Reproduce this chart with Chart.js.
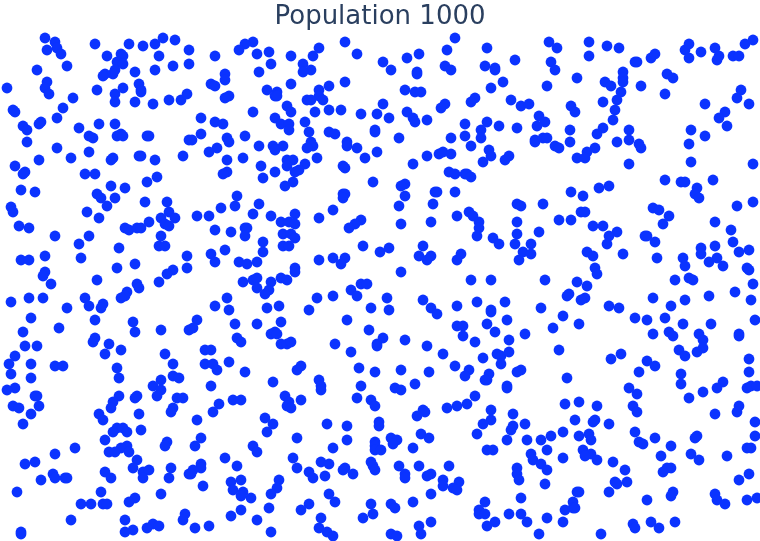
<!DOCTYPE html>
<html><head><meta charset="utf-8">
<script src="https://cdn.jsdelivr.net/npm/chart.js@4"></script>
<style>html,body{margin:0;padding:0;background:#fff}#w{width:760px;height:541px}</style>
</head><body><div id="w"><canvas id="c"></canvas></div>
<script>
const titleText = "Population 1000";
const topA = [45,38,55,42,57,48,47,50,61,54,67,66,37,70,47,82,45,88,49,94,7,88,73,98,63,108,13,110,15,112,57,118,41,122,39,124,23,126,27,130,27,142,57,148,39,160,71,158,15,166,25,172,23,174,79,128,99,124,115,124,89,136,93,138,89,152,85,174,95,174,111,160,113,158,95,44,107,56,129,44,143,46,155,44,163,38,175,40,159,56,189,50,189,64,173,66,155,70,135,72,121,54,123,56,117,62,123,64,115,70,113,74,105,74,103,76,97,90,115,94,123,88,139,84,141,90,141,92,115,102,135,102,153,104,169,100,181,100,187,94,117,136,121,134,123,136,147,136,149,136,189,140,139,156,141,156,155,160,183,156,157,177];
const topB = [253,42,245,44,239,50,257,54,269,52,215,56,271,64,259,72,225,74,225,80,211,84,215,86,267,90,277,92,275,96,277,96,229,96,225,98,291,84,291,56,303,64,313,56,319,48,345,42,357,54,311,70,303,72,345,82,329,86,319,90,319,96,307,100,311,100,323,100,315,112,329,110,341,110,361,114,377,114,253,112,287,106,291,112,275,118,281,124,289,124,289,130,305,122,309,132,311,142,313,146,307,148,329,132,335,134,347,142,347,146,357,148,375,130,375,132,377,152,365,158,317,158,305,164,299,170,295,172,287,160,293,160,287,166,275,172,261,166,343,166,345,168,243,158,227,160,227,172,223,174,263,178,201,118,215,122,223,124,201,134,245,136,227,138,229,142,259,146,273,146,283,146,275,150,217,148,209,152,192,140];
const topC = [455,38,447,50,487,48,419,54,407,58,383,62,391,70,515,60,549,42,557,48,551,62,555,70,445,66,451,70,485,66,495,68,495,70,417,72,417,74,503,82,491,88,547,86,405,90,415,92,421,92,475,98,471,102,511,100,521,106,529,104,445,104,441,108,383,104,407,112,413,118,415,122,389,118,427,120,399,138,465,124,487,122,481,130,499,126,517,128,465,136,481,138,451,138,471,146,539,116,545,122,537,126,535,140,535,142,543,138,547,138,555,146,559,148,570,142,570,130,571,106,489,150,491,156,483,162,509,156,505,160,427,156,439,154,443,152,451,154,413,164,449,172,455,174,465,174,467,174,471,177];
const topD = [589,42,607,46,619,48,589,56,635,62,637,62,651,58,655,54,685,50,689,44,689,58,701,52,715,48,719,56,717,60,733,56,739,56,745,44,753,40,577,78,623,72,623,78,623,82,605,82,611,86,641,86,667,74,673,78,665,94,621,92,617,100,603,102,615,110,613,120,741,90,737,98,749,104,705,104,725,112,719,118,727,126,691,130,705,136,689,144,603,128,597,134,629,130,629,140,617,142,639,144,641,148,595,148,587,152,577,158,585,158,629,164,691,162,753,164,665,180,713,180,575,112];
const midA = [21,190,35,192,11,207,13,212,19,226,29,228,55,236,21,260,29,260,45,256,45,272,43,276,51,284,11,302,29,298,43,298,67,308,31,318,59,328,23,332,25,346,37,346,15,356,111,186,125,188,147,182,97,194,101,198,115,198,107,206,87,212,99,218,145,202,167,202,169,212,161,218,175,218,165,224,169,226,149,222,125,228,129,230,137,228,141,228,161,236,159,246,165,246,89,236,79,244,119,248,81,258,117,268,135,264,97,280,187,256,187,268,173,270,167,274,159,282,137,284,139,288,127,292,125,296,121,298,85,298,89,306,103,304,101,308,95,320,133,322,135,332,161,330,189,330,95,338,93,342,109,344,121,350,105,354,165,354];
const midB = [237,196,221,208,235,206,259,204,197,216,209,216,253,214,271,216,215,230,231,232,245,228,247,228,245,236,281,222,289,222,295,214,295,224,283,234,291,234,295,238,283,246,289,246,263,242,225,250,263,252,211,254,215,262,239,262,247,264,257,262,243,282,253,280,257,278,257,288,271,282,269,290,265,294,281,278,287,280,295,268,295,272,227,298,215,306,229,310,267,308,279,306,235,324,257,324,281,322,197,320,193,328,237,338,241,342,271,334,275,332,277,334,281,344,287,344,291,342,205,350,211,350,319,218,333,210,343,194,345,194,343,198,361,220,355,224,349,228,363,246,380,252,319,260,333,258,345,258,341,264,351,290,357,296,361,284,367,284,333,296,317,298,309,310,371,308,347,320,369,330,335,344,351,352,377,344,377,346,285,186,293,182,373,182];
const midC = [405,184,401,186,405,196,399,206,401,224,435,192,437,192,455,192,433,204,431,222,457,216,469,212,473,216,479,222,479,228,477,236,493,238,499,244,517,204,521,206,543,204,517,222,517,234,539,232,559,220,571,220,571,192,515,244,531,244,523,252,531,254,519,260,423,246,389,248,419,256,431,256,427,260,461,254,457,260,401,272,471,280,491,280,545,280,387,298,389,310,423,300,431,308,437,314,457,306,477,302,505,302,491,310,491,312,541,308,507,320,487,324,457,326,463,326,463,336,495,332,509,340,525,334,475,342,563,316,553,328,567,296,569,294,559,350,383,338,405,340,427,346,443,354,483,358,497,354,501,356,509,352];
const midD = [599,188,609,186,583,196,581,212,585,212,593,226,603,226,617,232,609,236,607,244,587,252,593,256,623,254,595,268,597,274,577,282,587,286,585,298,581,300,609,306,619,308,579,324,645,236,647,236,655,242,657,258,653,208,659,210,669,216,663,224,697,188,695,194,699,198,737,206,753,202,715,222,731,230,733,242,715,246,701,248,701,254,749,250,739,252,683,258,685,266,709,262,717,258,723,266,747,268,749,270,675,280,689,278,693,280,753,284,735,292,709,296,685,300,751,300,653,298,671,306,665,318,635,318,647,320,683,324,711,324,755,320,653,334,669,332,673,336,699,334,703,340,703,348,697,352,679,350,685,356,739,334,739,336,621,354,611,359,647,361,749,359,681,182,685,182];
const lowA = [9,364,31,364,55,366,63,366,117,368,173,364,11,374,31,378,119,378,173,376,179,378,161,380,153,386,161,390,157,396,15,388,7,390,35,396,37,396,39,406,13,406,19,408,31,414,23,424,119,396,113,402,111,408,135,398,137,396,99,414,103,420,139,414,177,398,183,398,173,408,171,412,141,430,117,428,123,428,113,432,127,432,105,440,75,448,55,454,167,442,165,446,127,446,121,448,109,452,115,452,129,452,137,460,35,462,25,464,133,468,105,472,111,478,53,474,55,478,65,478,67,478,41,480,143,472,149,470,143,478,171,468,169,478,189,474,17,492,101,492,161,494,135,498,129,502,81,504,91,504,103,504,107,504,71,520,125,520,185,514,183,520,153,524,159,526,147,528,133,530,125,532,21,532,21,534];
const lowB = [205,364,213,364,217,370,229,362,245,372,211,386,273,382,301,366,297,370,359,368,375,372,319,380,321,386,321,390,361,386,357,398,371,400,375,406,285,396,289,402,287,406,291,408,301,400,233,400,241,400,219,404,213,412,197,420,265,418,273,424,267,432,327,424,347,426,379,422,379,426,297,438,347,440,201,438,195,446,253,446,257,452,333,448,375,442,375,446,375,450,225,458,237,466,293,458,297,468,321,462,329,464,325,476,309,472,313,478,345,468,343,470,353,474,371,462,373,466,375,470,201,464,201,468,193,470,191,474,203,486,231,482,241,480,233,490,243,492,241,496,251,498,279,480,277,488,271,494,329,494,335,502,309,504,301,510,269,508,241,510,231,516,257,520,371,504,373,514,363,518,321,518,319,528,327,532,333,536,271,532,209,526,195,528];
const lowC = [401,370,429,372,455,366,469,370,465,376,501,364,521,370,517,372,489,374,487,380,485,380,507,386,507,388,415,384,395,388,401,390,475,396,467,404,457,406,447,408,423,410,425,412,417,416,491,410,513,414,491,420,483,424,525,424,513,426,511,430,477,434,565,404,567,378,563,432,421,434,429,438,391,438,397,440,393,444,413,448,507,440,527,440,541,440,551,436,547,450,487,450,493,450,531,454,533,460,563,458,541,464,547,470,517,468,517,474,519,480,545,484,449,466,419,466,399,466,405,474,405,478,431,474,427,476,443,480,443,486,459,482,453,488,457,490,431,494,413,502,391,504,395,508,521,498,485,502,479,510,479,514,485,514,509,514,521,514,527,522,495,522,487,526,547,518,563,522,565,510,539,534,431,522,419,526,421,534,391,534,397,536,381,450];
const lowD = [655,366,639,372,681,374,681,384,749,372,723,382,717,388,703,392,689,398,747,388,751,386,757,386,629,388,637,394,633,406,637,412,579,402,597,406,575,420,595,420,593,422,609,424,739,406,737,412,715,414,755,422,635,432,589,434,579,436,591,440,655,438,639,442,643,444,697,436,695,438,755,436,671,446,583,450,591,454,585,456,597,460,613,462,661,456,691,454,699,460,727,456,747,448,751,448,671,468,667,468,663,472,625,470,749,474,739,480,627,482,615,482,617,484,609,492,577,492,579,492,673,492,671,496,647,500,715,494,717,500,725,504,747,500,757,498,573,502,573,508,575,508,633,524,635,528,651,522,659,528,675,522,601,534];

const regions = [topA,topB,topC,topD,midA,midB,midC,midD,lowA,lowB,lowC,lowD];
const points = [];
regions.forEach(r => { for (let i = 0; i < r.length; i += 2) points.push({x: r[i], y: r[i+1]}); });

new Chart(document.getElementById('c'), {
  type: 'scatter',
  data: { datasets: [{ data: points, backgroundColor: '#0b33ff', borderWidth: 0, pointRadius: 5.4, clip: false }] },
  options: {
    responsive: true, maintainAspectRatio: false, animation: false,
    layout: { padding: 0, autoPadding: false },
    plugins: {
      legend: { display: false }, tooltip: { enabled: false },
      title: { display: true, text: titleText, color: '#2a3f5f', align: 'center',
        font: { family: '"DejaVu Sans"', size: 26, weight: 'normal', lineHeight: '31px' }, padding: { top: 2, bottom: 0 } }
    },
    scales: {
      x: { type: 'linear', min: 0, max: 760, display: false },
      y: { type: 'linear', min: 33, max: 541, reverse: true, display: false }
    }
  }
});
</script></body></html>
